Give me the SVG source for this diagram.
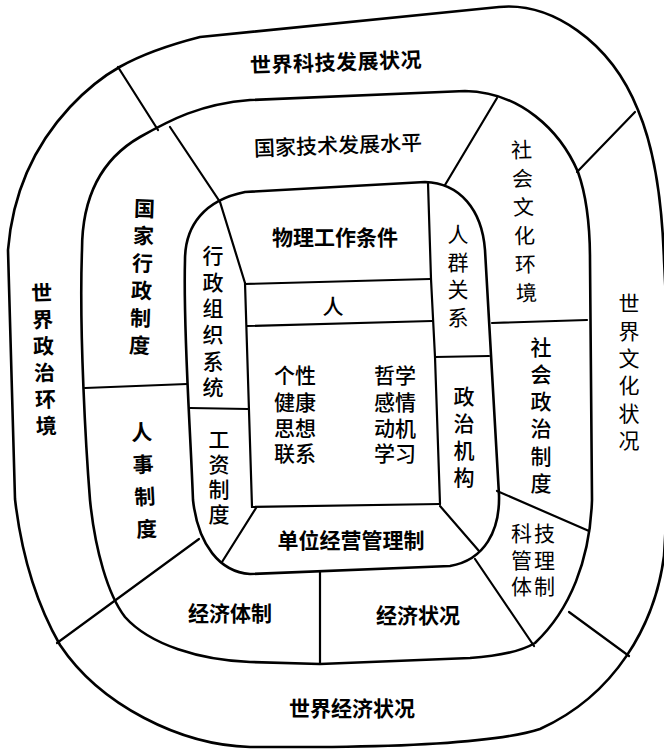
<svg xmlns="http://www.w3.org/2000/svg" width="664" height="749" viewBox="0 0 664 749">
<style>
.ring{fill:none;stroke:#000;stroke-width:2.6;stroke-linejoin:round}
.dv{fill:none;stroke:#000;stroke-width:2.2;stroke-linecap:round}
.t{font-family:"Noto Sans CJK SC","Noto Sans CJK JP",sans-serif;font-size:21px;fill:#000;text-anchor:middle}
.v{writing-mode:vertical-rl}
.b{font-weight:700}
.m{font-weight:500}
</style>
<rect width="664" height="749" fill="#fff"/>
<g id="rings">
<path id="outer-ring" class="ring" d="M 8,250 C 12,200 30,150 70,107 C 100,75 130,55 200,37 L 499,7 C 550,2 610,40 638,110 C 655,150 662,200 664,260 L 672,420 L 664,556 C 655,625 615,695 540,729 C 500,742 420,746 332,747 L 250,747 C 180,745 100,705 60,645 C 40,610 22,560 15,499 Z"/>
<path id="middle-ring" class="ring" d="M 82,250 C 82,200 100,160 140,137 C 170,120 200,104 250,100 L 465,91 C 520,92 560,130 578,172 C 588,200 590,230 590,260 L 592,500 C 590,560 570,610 535,643 C 520,652 500,656 470,658 L 320,664 L 250,662 C 200,660 150,645 125,617 C 108,595 95,550 90,500 C 86,450 79,330 82,250 Z"/>
<path id="inner-ring" class="ring" d="M 185,260 C 185,225 205,200 245,192 L 425,182 C 460,183 482,210 485,250 L 499,495 C 500,530 485,560 450,566 L 250,574 C 220,572 198,545 193,500 C 190,420 183,330 185,260 Z"/>
</g>
<g id="dividers">
<path class="dv" d="M 118,67 L 158,130"/>
<path class="dv" d="M 635,112 L 577,172"/>
<path class="dv" d="M 57,643 L 199,539"/>
<path class="dv" d="M 629,656 L 569,612"/>
<path class="dv" d="M 170,127 L 220,202 L 245,283"/>
<path class="dv" d="M 497,98 L 445,185"/>
<path class="dv" d="M 320,572 L 320,664"/>
<path class="dv" d="M 475,559 L 534,646"/>
<path class="dv" d="M 85,388 L 187,384"/>
<path class="dv" d="M 492,323 L 587,320"/>
<path class="dv" d="M 497,491 L 589,531"/>
<path class="dv" d="M 428,183 L 431,279 L 435,357 L 440,504"/>
<path class="dv" d="M 245,283 L 252,507 L 440,504"/>
<path class="dv" d="M 245,284 L 430,279"/>
<path class="dv" d="M 247,326 L 432,321"/>
<path class="dv" d="M 435,357 L 489,356"/>
<path class="dv" d="M 190,408 L 248,409"/>
<path class="dv" d="M 256,508 L 222,562"/>
<path class="dv" d="M 440,506 L 479,551"/>
</g>
<g id="world-tech"><text class="t b" x="336" y="70" letter-spacing="0.5" transform="rotate(-2 336 62)">世界科技发展状况</text></g>
<g id="national-tech"><text class="t m" x="338" y="153" transform="rotate(-2 338 145)">国家技术发展水平</text></g>
<g id="physical"><text class="t b" x="335" y="245">物理工作条件</text></g>
<g id="person"><text class="t m" x="333" y="314">人</text></g>
<g id="traits-left"><text class="t m" x="295" font-size="22"><tspan x="295" y="383">个性</tspan><tspan x="295" y="410">健康</tspan><tspan x="295" y="436">思想</tspan><tspan x="295" y="461">联系</tspan></text></g>
<g id="traits-right"><text class="t m" x="395" font-size="22"><tspan x="395" y="383">哲学</tspan><tspan x="395" y="410">感情</tspan><tspan x="395" y="436">动机</tspan><tspan x="395" y="461">学习</tspan></text></g>
<g id="unit-mgmt"><text class="t b" x="351" y="548">单位经营管理制</text></g>
<g id="admin-org"><text class="t v m" x="213" y="324" letter-spacing="5.4">行政组织系统</text></g>
<g id="wage"><text class="t v m" x="219" y="479" letter-spacing="4">工资制度</text></g>
<g id="group-rel"><text class="t v" x="458" y="279" letter-spacing="6.7">人群关系</text></g>
<g id="political-org"><text class="t v m" x="464" y="440" letter-spacing="6">政治机构</text></g>
<g id="social-culture"><text class="t v" x="524" y="225" letter-spacing="7.6" transform="rotate(-2 524 221)">社会文化环境</text></g>
<g id="social-political"><text class="t v m" x="541" y="418" letter-spacing="6.2">社会政治制度</text></g>
<g id="sci-mgmt"><text class="t" font-size="20" letter-spacing="2"><tspan x="534" y="541">科技</tspan><tspan x="534" y="568">管理</tspan><tspan x="534" y="594">体制</tspan></text></g>
<g id="econ-system"><text class="t b" x="230" y="621">经济体制</text></g>
<g id="econ-status"><text class="t b" x="418" y="623">经济状况</text></g>
<g id="world-econ"><text class="t b" x="352" y="716">世界经济状况</text></g>
<g id="national-admin"><text class="t v b" x="142" y="280" letter-spacing="6.4" transform="rotate(2 142 277)">国家行政制度</text></g>
<g id="personnel"><text class="t v b" x="144" y="486" letter-spacing="11.3" transform="rotate(-3 144 480)">人事制度</text></g>
<g id="world-politics"><text class="t v b" x="44" y="362" letter-spacing="5.6" transform="rotate(-2 44 359)">世界政治环境</text></g>
<g id="world-culture"><text class="t v" x="629" y="375" letter-spacing="6.4">世界文化状况</text></g>
</svg>
